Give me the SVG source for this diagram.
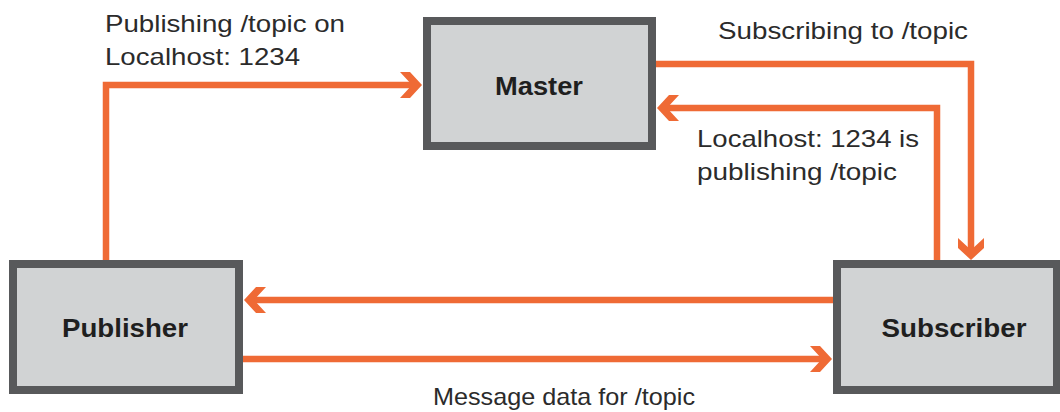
<svg xmlns="http://www.w3.org/2000/svg" width="1060" height="412" viewBox="0 0 1060 412">
<style>
.box{fill:#d1d3d4;stroke:#58595b;stroke-width:8}
.lbl{font-family:"Liberation Sans",Arial,sans-serif;font-size:24px;fill:#2b2b2b}
.nlbl{font-family:"Liberation Sans",Arial,sans-serif;font-size:25px;font-weight:bold;fill:#1f1f1f;text-anchor:middle}
.wire{fill:none;stroke:#ef6a35;stroke-width:6.5;stroke-linejoin:miter}
.head{fill:#ef6a35}
</style>
<defs>
<path id="ah" d="M0,0 L-12,-13 L-22,-13 L-10,0 L-22,13 L-12,13 Z"/>
</defs>
<rect width="1060" height="412" fill="#ffffff"/>
<g id="connectors">
<path class="wire" d="M106,260 V85 H412"/>
<use href="#ah" class="head" transform="translate(422,85)"/>
<path class="wire" d="M656,64 H971 V250"/>
<use href="#ah" class="head" transform="translate(971,260) rotate(90)"/>
<path class="wire" d="M937,260 V108 H667"/>
<use href="#ah" class="head" transform="translate(657,108) rotate(180)"/>
<path class="wire" d="M833,300 H254"/>
<use href="#ah" class="head" transform="translate(244,300) rotate(180)"/>
<path class="wire" d="M243,359 H822"/>
<use href="#ah" class="head" transform="translate(832,359)"/>
</g>
<g id="master">
<rect class="box" x="427" y="21" width="225" height="125"/>
<text class="nlbl" x="539" y="95" textLength="88" lengthAdjust="spacingAndGlyphs">Master</text>
</g>
<g id="publisher">
<rect class="box" x="13" y="264" width="226" height="126"/>
<text class="nlbl" x="125" y="337" textLength="126" lengthAdjust="spacingAndGlyphs">Publisher</text>
</g>
<g id="subscriber">
<rect class="box" x="837" y="264" width="220" height="126"/>
<text class="nlbl" x="954" y="337" textLength="145" lengthAdjust="spacingAndGlyphs">Subscriber</text>
</g>
<g id="labels">
<text class="lbl" x="105" y="32" textLength="240" lengthAdjust="spacingAndGlyphs">Publishing /topic on</text>
<text class="lbl" x="105" y="65" textLength="195" lengthAdjust="spacingAndGlyphs">Localhost: 1234</text>
<text class="lbl" x="718" y="39" textLength="250" lengthAdjust="spacingAndGlyphs">Subscribing to /topic</text>
<text class="lbl" x="697" y="147" textLength="222" lengthAdjust="spacingAndGlyphs">Localhost: 1234 is</text>
<text class="lbl" x="697" y="180" textLength="200" lengthAdjust="spacingAndGlyphs">publishing /topic</text>
<text class="lbl" x="433" y="405" textLength="262" lengthAdjust="spacingAndGlyphs">Message data for /topic</text>
</g>
</svg>
